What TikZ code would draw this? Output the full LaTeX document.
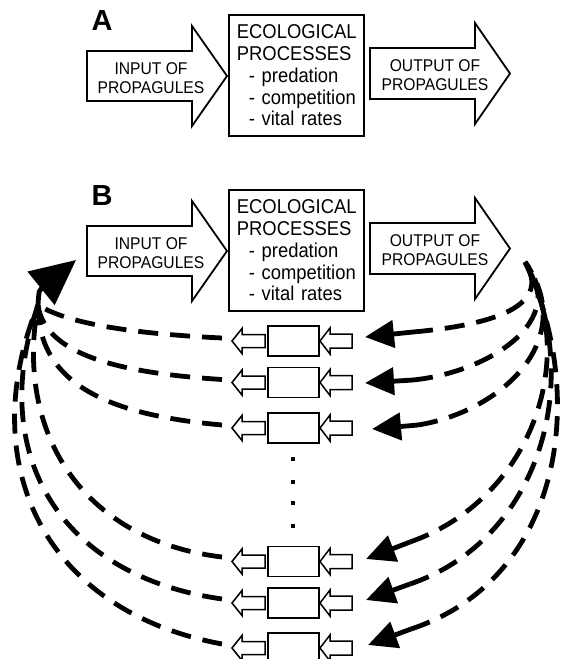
\documentclass[tikz,border=0pt]{standalone}
\usepackage{fontspec}
\setmainfont{Liberation Sans}[FakeStretch=0.92]
\newfontfamily\labfont{Liberation Sans}
\usetikzlibrary{arrows.meta}
\begin{document}
\begin{tikzpicture}[x=1pt,y=-1pt,
  blk/.style={draw, line width=1.8pt, fill=white, line join=miter},
  sm/.style={draw, line width=1.5pt, fill=white, line join=miter},
  boxtxt/.style={blk, minimum width=135pt, minimum height=121pt, text width=119pt,
    inner xsep=8pt, inner ysep=0pt, align=left, anchor=north west,
    font=\fontsize{20pt}{21.75pt}\selectfont},
  arrtxt/.style={inner sep=0pt, align=center, font=\fontsize{17pt}{18.5pt}\selectfont},
  panel/.style={inner sep=0pt, font=\labfont\bfseries\fontsize{29pt}{29pt}\selectfont},
  dsh/.style={line width=4.8pt, dash pattern=on 20pt off 12pt},
  shaft/.style={line width=4.8pt, -{Triangle[length=29pt,width=27pt]}},
  bigtip/.style={line width=4.8pt, -{Triangle[length=45pt,width=42pt]}}]
\clip (0,0) rectangle (563,659);
\fill[white] (0,0) rectangle (563,659);

% ---------- panel A and B headers ----------
\foreach \o/\lab in {0/A,175/B}{
  \node[panel] (lab\lab) at (102,21+\o) {\lab};
  \draw[blk] (87,51+\o) -- (192,51+\o) -- (192,26+\o) -- (227,76+\o)
     -- (192,126+\o) -- (192,101+\o) -- (87,101+\o) -- cycle;
  \node[arrtxt] (in\lab) at (151,78+\o) {INPUT OF\\PROPAGULES};
  \node[boxtxt] (proc\lab) at (228,14+\o)
     {ECOLOGICAL\\PROCESSES\\\hspace*{12pt}- predation\\\hspace*{12pt}- competition\\\hspace*{12pt}- vital rates};
  \draw[blk] (370,48+\o) -- (475,48+\o) -- (475,23+\o) -- (510,73.5+\o)
     -- (475,124+\o) -- (475,99+\o) -- (370,99+\o) -- cycle;
  \node[arrtxt] (out\lab) at (435,75+\o) {OUTPUT OF\\PROPAGULES};
}

% ---------- chains of small units ----------
\foreach \y [count=\i] in {341,382.5,428,561.5,603,648}{
  \draw[sm] (265,\y-6.5) -- (242,\y-6.5) -- (242,\y-12.5) -- (232,\y)
     -- (242,\y+12.5) -- (242,\y+6.5) -- (265,\y+6.5) -- cycle;
  \node[sm, minimum width=51pt, minimum height=30pt, inner sep=0pt] (r\i) at (293.5,\y) {};
  \draw[sm] (352,\y-7) -- (330,\y-7) -- (330,\y-13) -- (320,\y)
     -- (330,\y+13) -- (330,\y+7) -- (352,\y+7) -- cycle;
}
\foreach \y in {459,482,503,526}{
  \fill (291,\y-2) rectangle (295,\y+2);
}

% ---------- named end points ----------
\coordinate (CL) at (38,305);
\coordinate (TL) at (76,260);
\coordinate (TR) at (525,262);
\coordinate (L1) at (222,338);
\coordinate (L2) at (222,379.5);
\coordinate (L3) at (222,425);
\coordinate (L4) at (222,557);
\coordinate (L5) at (222,599);
\coordinate (L6) at (222,644);
\coordinate (P1) at (413,332);   \coordinate (T1) at (365,337);
\coordinate (P2) at (413,380);   \coordinate (T2) at (365,383);
\coordinate (P3) at (418,425);   \coordinate (T3) at (372,429);
\coordinate (P4) at (410,542);   \coordinate (T4) at (366,559);
\coordinate (P5) at (410,584);   \coordinate (T5) at (366,600);
\coordinate (P6) at (411,629);   \coordinate (T6) at (368,645);

% ---------- left returning curves ----------
\draw[dsh] (L1) .. controls (140,334) and (70,325) .. (CL);
\draw[dsh] (L2) .. controls (120,373) and (45,355) .. (CL);
\draw[dsh] (L3) .. controls (110,415) and (38,385) .. (CL);
\draw[dsh] (L4) .. controls (80,540) and (15,430) .. (CL);
\draw[dsh] (L5) .. controls (55,575) and (-12,450) .. (CL);
\draw[dsh] (L6) .. controls (40,610) and (-25,460) .. (CL);
\draw[bigtip] (CL) .. controls (39,290) .. (TL);

% ---------- right outgoing curves ----------
\draw[dsh] (P1) .. controls (480,326) and (555,310) .. (TR);
\draw[dsh] (P2) .. controls (490,372) and (570,320) .. (TR);
\draw[dsh] (P3) .. controls (500,412) and (580,340) .. (TR);
\draw[dsh] (P4) .. controls (530,500) and (580,360) .. (TR);
\draw[dsh] (P5) .. controls (540,540) and (585,380) .. (TR);
\draw[dsh] (P6) .. controls (560,580) and (590,400) .. (TR);
\foreach \i in {1,...,6}{
  \draw[shaft] (P\i) -- (T\i);
}
\end{tikzpicture}
\end{document}
